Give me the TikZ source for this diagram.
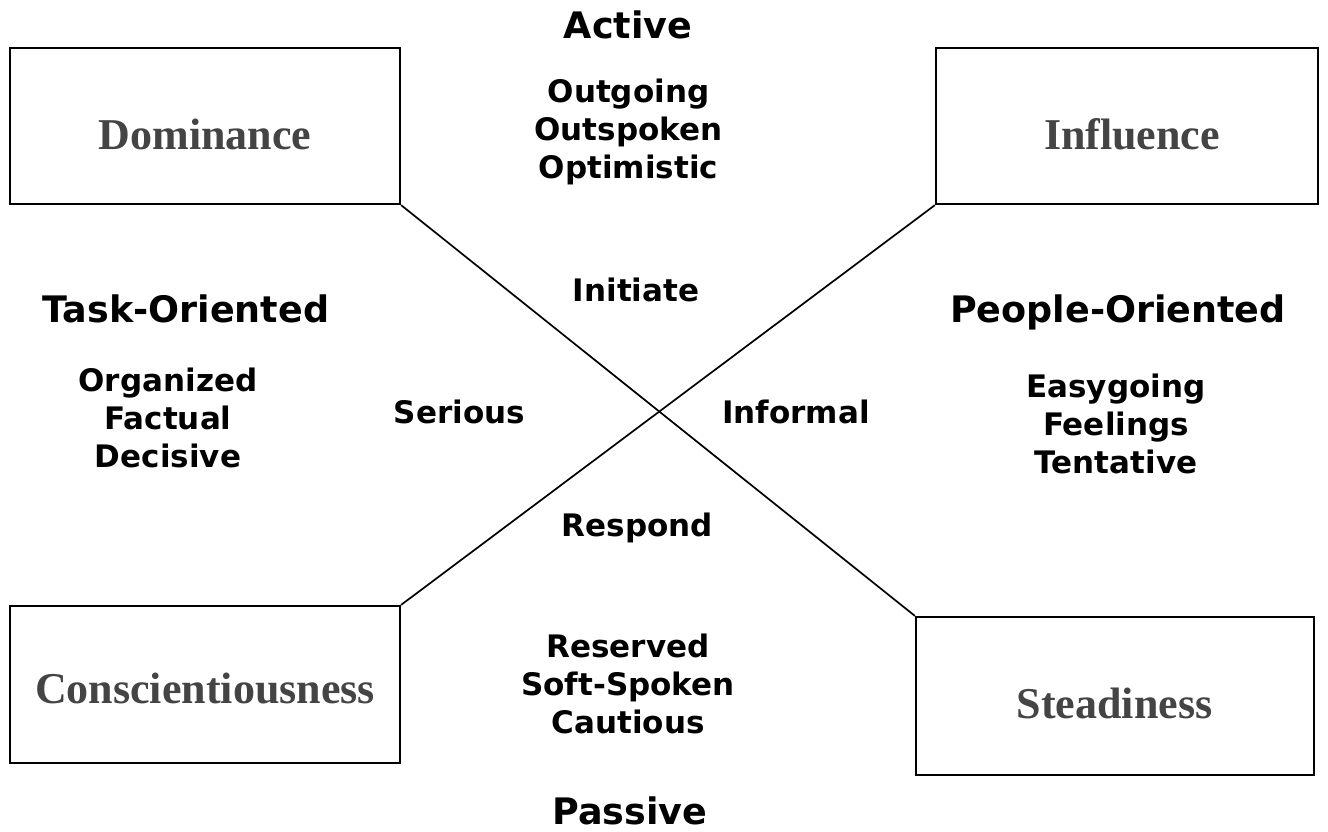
\documentclass[tikz,border=0pt]{standalone}
\usepackage{fontspec}
\newfontfamily\vfont{DejaVu Sans}
\newfontfamily\sfontb{Liberation Serif}
\definecolor{boxtext}{HTML}{444444}
\begin{document}
\begin{tikzpicture}[x=1pt,y=-1pt,
  discbox/.style={draw=black,line width=2.2pt,inner sep=0pt,
    font=\sfontb\bfseries\fontsize{44}{48}\selectfont,text=boxtext},
  head/.style={anchor=base,inner sep=0pt,font=\vfont\bfseries\fontsize{36.5}{40}\selectfont},
  item/.style={anchor=base,inner sep=0pt,align=center,font=\vfont\bfseries\fontsize{31}{37.8}\selectfont},
  cross/.style={line width=1.7pt}]
\useasboundingbox (0,0) rectangle (1328,831);
\fill[white] (0,0) rectangle (1328,831);
% boxes
\node[discbox,minimum width=390pt,minimum height=156pt] (dom) at (205,126) {};
\node[discbox,minimum width=382pt,minimum height=156pt] (inf) at (1127,126) {};
\node[discbox,minimum width=390pt,minimum height=157pt] (con) at (205,684.5) {};
\node[discbox,minimum width=398pt,minimum height=158pt] (ste) at (1115,696) {};
% box labels
\node[discbox,draw=none,anchor=base] (domt) at (205,149) {Dominance};
\node[discbox,draw=none,anchor=base] (inft) at (1132,149) {Influence};
\node[discbox,draw=none,anchor=base] (cont) at (205,703) {Conscientiousness};
\node[discbox,draw=none,anchor=base] (stet) at (1114.5,718) {Steadiness};
% cross
\draw[cross] (dom.south east) -- (ste.north west);
\draw[cross] (inf.south west) -- (con.north east);
% headings
\node[head] (active) at (628,38) {Active};
\node[head] (passive) at (630,824) {Passive};
\node[head] (task) at (186,322) {Task-Oriented};
\node[head] (people) at (1118,322) {People-Oriented};
% lists (base anchor = baseline of last line)
\node[item] (actl) at (628.5,178) {Outgoing\\Outspoken\\Optimistic};
\node[item] (taskl) at (168,467) {Organized\\Factual\\Decisive};
\node[item] (peopl) at (1116,473) {Easygoing\\Feelings\\Tentative};
\node[item] (pasl) at (628,733) {Reserved\\Soft-Spoken\\Cautious};
% middle labels
\node[item] (init) at (636,301) {Initiate};
\node[item] (ser) at (459.5,423) {Serious};
\node[item] (infm) at (796,423) {Informal};
\node[item] (resp) at (637.5,536) {Respond};
\end{tikzpicture}
\end{document}
